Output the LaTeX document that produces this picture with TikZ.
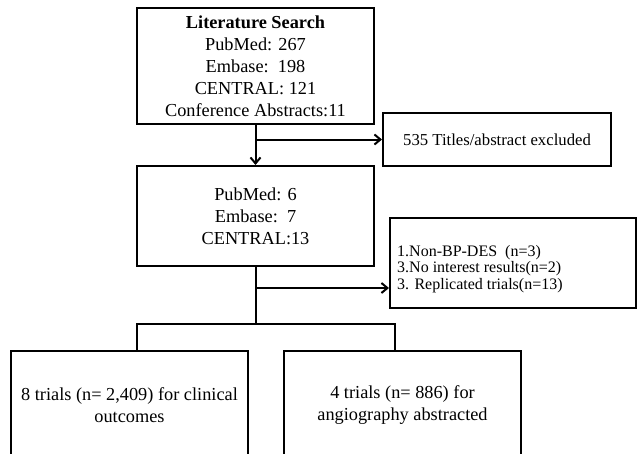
\documentclass[tikz,border=0pt]{standalone}
\usepackage{fontspec}
\setmainfont{Liberation Serif}
\usetikzlibrary{arrows.meta}
\begin{document}
\begin{tikzpicture}[x=1pt,y=-1pt,
  box/.style={draw,line width=2pt,rectangle,inner sep=0pt,align=center,
    font=\fontsize{18.3}{22}\selectfont},
  conn/.style={line width=2pt},
  arr/.style={line width=2pt,-{Straight Barb[length=6pt,width=10pt,line width=2pt]}}]
\useasboundingbox (0,0) rectangle (637,453);
\clip (0,0) rectangle (637,453);
% main boxes
\node[box,minimum width=237pt,minimum height=116pt] (search) at (255.5,66)
  {\textbf{Literature Search}\\PubMed: 267\\Embase:\ \ 198\\CENTRAL: 121\\Conference Abstracts:11};
\node[box,minimum width=237pt,minimum height=100pt] (screen) at (255.5,216)
  {PubMed: 6\\Embase:\ \ 7\\CENTRAL:13};
\node[box,minimum width=228pt,minimum height=53pt,font=\fontsize{16.7}{20}\selectfont] (excl1) at (497,139.5)
  {535 Titles/abstract excluded};
\node[box,minimum width=246pt,minimum height=90pt] (excl2) at (513,263) {};
\node[anchor=north west,inner sep=0pt,align=left,font=\fontsize{16}{16.5}\selectfont] (excl2txt) at (397,245)
  {1.Non-BP-DES\ \ (n=3)\\3.No interest results(n=2)\\3. Replicated trials(n=13)};
\node[box,minimum width=237pt,minimum height=108pt] (clin) at (129.5,405)
  {8 trials (n= 2,409) for clinical\\outcomes};
\node[box,minimum width=237pt,minimum height=108pt] (angio) at (402.5,405)
  {4 trials (n= 886) for\\angiography abstracted};
% junction coordinates
\coordinate (j1) at (search.south |- excl1.west);
\coordinate (j2) at (screen.south |- 0,288);
\coordinate (j3) at (screen.south |- 0,324);
\coordinate (jl) at (137,324);
\coordinate (jr) at (395,324);
% connectors
\draw[arr] (search.south) -- (screen.north);
\draw[arr] (j1) -- (excl1.west);
\draw[conn] (screen.south) -- (j3);
\draw[arr] (j2) -- (excl2.west |- j2);
\draw[conn] (jl |- clin.north) -- (jl) -- (jr) -- (jr |- angio.north);
\end{tikzpicture}
\end{document}
